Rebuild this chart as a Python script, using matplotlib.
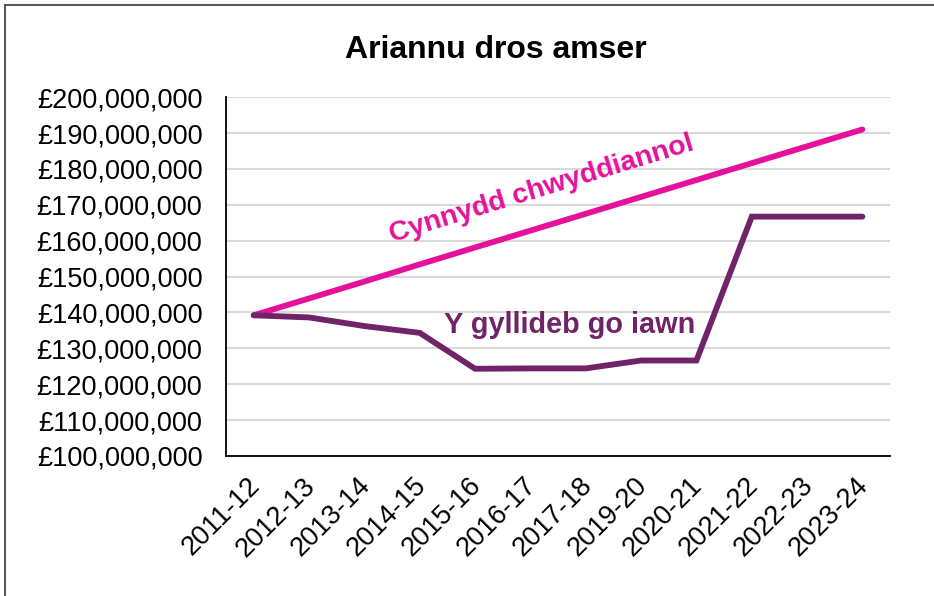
import matplotlib.pyplot as plt
from matplotlib.patches import Rectangle
from matplotlib.ticker import FuncFormatter, MultipleLocator
from matplotlib.transforms import ScaledTranslation

plt.rcParams['font.family'] = ['Liberation Sans', 'DejaVu Sans']

# Financial years along the x axis (2018-19 is not in the source)
years = ['2011-12', '2012-13', '2013-14', '2014-15', '2015-16', '2016-17',
         '2017-18', '2019-20', '2020-21', '2021-22', '2022-23', '2023-24']

# Inflation-linked growth (pounds)
inflation = [139200000, 143900000, 148600000, 153400000, 158100000, 162800000,
             167500000, 172200000, 176900000, 181600000, 186300000, 191000000]

# Actual budget (pounds)
actual = [139200000, 138600000, 136200000, 134300000, 124300000, 124400000,
          124400000, 126600000, 126600000, 166700000, 166700000, 166700000]

pink = '#E6119A'
purple = '#702369'

fig = plt.figure(figsize=(9.34, 5.96), dpi=100)
# outer chart border (cut off on the right and bottom like the source)
fig.patches.append(Rectangle((5 / 934, -0.1), 1.2, 1 - 5 / 596 + 0.1,
                             transform=fig.transFigure, fill=False,
                             edgecolor='#595959', linewidth=1.5))

ax = fig.add_axes([0.242, 0.235, 0.711, 0.602])
x = range(len(years))
ax.plot(x, inflation, color=pink, linewidth=4.2, solid_capstyle='round', zorder=3)
ax.plot(x, actual, color=purple, linewidth=4.2, solid_capstyle='round',
        solid_joinstyle='miter', zorder=3)

ax.set_xlim(-0.5, len(years) - 0.5)
ax.set_ylim(100000000, 200000000)
ax.yaxis.set_major_locator(MultipleLocator(10000000))
ax.yaxis.set_major_formatter(FuncFormatter(lambda v, p: f'£{v:,.0f}'))
ax.grid(axis='y', color='#D9D9D9', linewidth=1.5)
ax.set_axisbelow(True)

ax.set_xticks(list(x))
ax.set_xticklabels(years, rotation=45, ha='right', va='top', rotation_mode='anchor')
ax.tick_params(axis='both', length=0, labelsize=19.5)
ax.tick_params(axis='y', pad=17)
ax.tick_params(axis='x', pad=12)
# nudge the rotated year labels a little to the left
shift = ScaledTranslation(-7 / 100, 0, fig.dpi_scale_trans)
for lbl in ax.get_xticklabels():
    lbl.set_transform(lbl.get_transform() + shift)

for side in ['top', 'right']:
    ax.spines[side].set_visible(False)
for side in ['left', 'bottom']:
    ax.spines[side].set_color('black')
    ax.spines[side].set_linewidth(1.3)

ax.text(5.21, 174300000, 'Cynnydd chwyddiannol', color=pink, fontsize=20.3,
        fontweight='bold', rotation=17, ha='center', va='center',
        rotation_mode='anchor')
ax.text(5.7, 136500000, 'Y gyllideb go iawn', color=purple, fontsize=20.8,
        fontweight='bold', ha='center', va='center')

fig.text(0.531, 0.916, 'Ariannu dros amser', fontsize=23, fontweight='bold',
         ha='center', va='center')

fig.savefig('out.png', dpi=100)
